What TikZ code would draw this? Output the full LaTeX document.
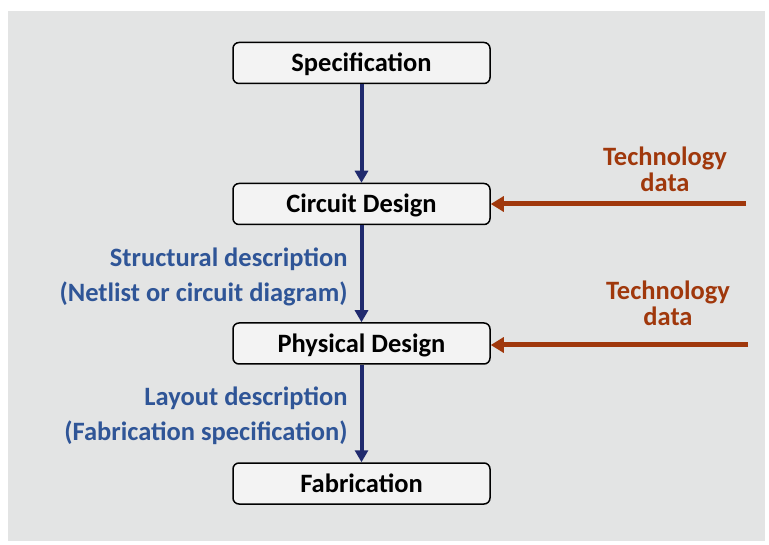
\documentclass[tikz,border=0pt]{standalone}
\usepackage{fontspec}
\setmainfont{Carlito}
\usetikzlibrary{arrows.meta}
\definecolor{bggray}{HTML}{E3E4E4}
\definecolor{boxfill}{HTML}{F3F3F3}
\definecolor{navy}{HTML}{202A6E}
\definecolor{rust}{HTML}{A0380C}
\definecolor{steel}{HTML}{2F5597}
\tikzset{
  stagebox/.style={draw=black, line width=1.5pt, fill=boxfill, rounded corners=6pt,
    minimum width=257pt, minimum height=41pt, inner sep=0pt,
    text height=20pt, text depth=2pt,
    font=\fontsize{26.5}{30}\selectfont\bfseries},
  flow/.style={draw=navy, line width=4pt, -{Triangle[width=13pt,length=12pt]}},
  techarrow/.style={draw=rust, line width=5pt, -{Triangle[width=15pt,length=13pt]}},
  techlabel/.style={text=rust, align=center, font=\fontsize{26.5}{26}\selectfont\bfseries},
  desclabel/.style={text=steel, align=right, anchor=east, font=\fontsize{26.5}{35}\selectfont\bfseries},
}
\begin{document}
\begin{tikzpicture}[x=1pt,y=-1pt]
\useasboundingbox (0,0) rectangle (769,545);
\fill[bggray] (8,11) rectangle (765,541);
\node[stagebox] (spec) at (361.5,63) {Specification};
\node[stagebox] (circ) at (361.5,204) {Circuit Design};
\node[stagebox] (phys) at (361.5,343.5) {Physical Design};
\node[stagebox] (fab) at (361.5,483.5) {Fabrication};
\draw[flow] (spec) -- (circ);
\draw[flow] (circ) -- (phys);
\draw[flow] (phys) -- (fab);
\coordinate (t1) at (746,204);
\coordinate (t2) at (748,345);
\draw[techarrow] (t1) -- (circ.east |- t1);
\draw[techarrow] (t2) -- (phys.east |- t2);
\node[techlabel] (tl1) at (665,169.5) {Technology\\data};
\node[techlabel] (tl2) at (668,303.5) {Technology\\data};
\node[desclabel] (d1) at (351,277) {Structural description\\(Netlist or circuit diagram)};
\node[desclabel] (d2) at (351,416) {Layout description\\(Fabrication specification)};
\end{tikzpicture}
\end{document}
